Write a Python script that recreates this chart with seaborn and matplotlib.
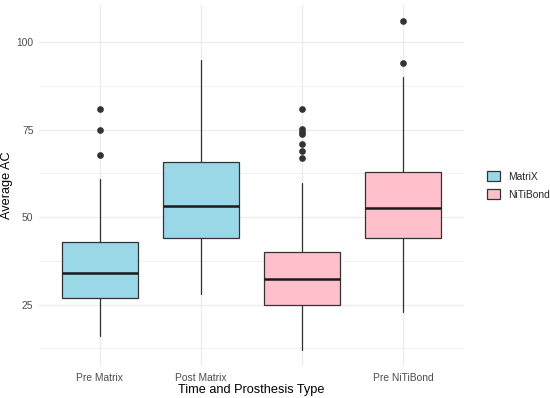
import matplotlib
matplotlib.use("Agg")
import matplotlib.pyplot as plt
import seaborn as sns
from matplotlib.patches import Patch

# ---- data ----
categories = ["Pre Matrix", "Post Matrix", "Post NiTiBond", "Pre NiTiBond"]
tick_labels = ["Pre Matrix", "Post Matrix", "", "Pre NiTiBond"]
prosthesis = ["MatriX", "MatriX", "NiTiBond", "NiTiBond"]
whislo = [16.0, 28.0, 12.0, 23.0]
q1 = [26.9, 44.0, 24.9, 43.9]
med = [34.0, 53.1, 32.4, 52.5]
q3 = [43.0, 65.9, 40.0, 62.8]
whishi = [61.0, 95.0, 59.9, 90.0]
outliers = [
    [81.0, 75.0, 67.9],
    [],
    [81.0, 75.2, 74.4, 73.8, 71.0, 69.0, 67.0],
    [106.0, 94.0],
]
legend_labels = ["MatriX", "NiTiBond"]
fill_colors = {"MatriX": "#9AD7E7", "NiTiBond": "#FFC0CB"}

sns.set_theme(style="whitegrid")
plt.rcParams["font.family"] = ["Liberation Sans", "DejaVu Sans"]

fig = plt.figure(figsize=(5.5, 3.98), dpi=100)
W, H = 550, 398
left, right, top, bottom = 39, 463.8, 5, 366.4
ax = fig.add_axes([left / W, (H - bottom) / H, (right - left) / W, (bottom - top) / H])

stats = []
for i in range(len(categories)):
    stats.append(dict(label=tick_labels[i], whislo=whislo[i], q1=q1[i], med=med[i],
                      q3=q3[i], whishi=whishi[i], fliers=outliers[i]))

edge = "#333333"
bp = ax.bxp(stats, positions=range(1, len(categories) + 1), widths=0.75,
            patch_artist=True, showcaps=False,
            boxprops=dict(edgecolor=edge, linewidth=0.9),
            whiskerprops=dict(color=edge, linewidth=0.9),
            medianprops=dict(color="#1a1a1a", linewidth=1.8),
            flierprops=dict(marker="o", markerfacecolor=edge, markeredgecolor=edge,
                            markersize=3.8, linestyle="none"))
for patch, p in zip(bp["boxes"], prosthesis):
    patch.set_facecolor(fill_colors[p])
for b in bp["boxes"] + bp["whiskers"] + bp["medians"] + bp["fliers"]:
    b.set_zorder(3)

ax.set_xlim(0.4, 4.6)
ax.set_ylim(7.3, 110.7)
ax.set_yticks([25, 50, 75, 100])
ax.set_yticks([12.5, 37.5, 62.5, 87.5], minor=True)
ax.set_xticks(range(1, len(categories) + 1))
ax.set_xticklabels(tick_labels)

ax.set_facecolor("white")
for s in ax.spines.values():
    s.set_visible(False)
ax.grid(which="major", color="#EBEBEB", linewidth=0.9)
ax.grid(which="minor", axis="y", color="#EBEBEB", linewidth=0.5)
ax.set_axisbelow(True)
ax.tick_params(axis="x", which="both", length=0, labelsize=7.4, colors="#4D4D4D", pad=5)
ax.tick_params(axis="y", which="both", length=0, labelsize=7.4, colors="#4D4D4D", pad=4)

fig.text((left + right) / 2 / W, 1 - 390 / H, "Time and Prosthesis Type",
         ha="center", va="center", fontsize=9.2, color="black")
fig.text(7 / W, 1 - 185 / H, "Average AC", ha="center", va="center",
         rotation=90, fontsize=9.2, color="black")

handles = [Patch(facecolor=fill_colors[l], edgecolor=edge, linewidth=0.9) for l in legend_labels]
fig.legend(handles, legend_labels, loc="center left", bbox_to_anchor=(480 / W, 1 - 185.5 / H),
           frameon=False, fontsize=7.4, handlelength=1.2, handleheight=1.1,
           labelspacing=0.75, handletextpad=0.8, borderpad=0.2)

fig.savefig("out.png", dpi=100, facecolor="white")
